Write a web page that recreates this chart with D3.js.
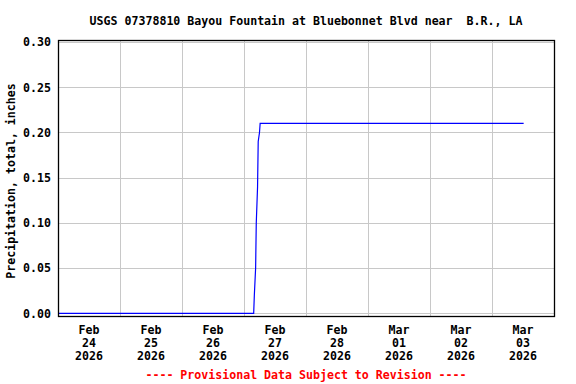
<!DOCTYPE html>
<html lang="en">

<head>
  <meta charset="utf-8">
  <title>USGS 07378810 precipitation</title>
  <script type="text/javascript" src="https://cdn.jsdelivr.net/npm/d3@7"></script>
  <style type="text/css">
    body { margin: 0; background: #fff; }
    text { font-family: "DejaVu Sans Mono", monospace; font-weight: bold; font-size: 11.6px; }
  </style>
</head>

<body>
  <script type="text/javascript">
    // Data
    const titleText = "USGS 07378810 Bayou Fountain at Bluebonnet Blvd near  B.R., LA";
    const yLabel = "Precipitation, total, inches";
    const footer = "---- Provisional Data Subject to Revision ----";

    const times = [
      "2026-02-24T00:00", "2026-02-27T03:45", "2026-02-27T04:00", "2026-02-27T04:30",
      "2026-02-27T04:45", "2026-02-27T05:15", "2026-02-27T05:30", "2026-02-27T06:00",
      "2026-02-27T06:15", "2026-03-03T12:15"
    ];
    const values = [0.00, 0.00, 0.02, 0.05, 0.10, 0.14, 0.19, 0.20, 0.21, 0.21];

    const dayTicks = ["2026-02-24", "2026-02-25", "2026-02-26", "2026-02-27",
                      "2026-02-28", "2026-03-01", "2026-03-02", "2026-03-03"];
    const monthNames = ["Jan", "Feb", "Mar", "Apr", "May", "Jun", "Jul", "Aug", "Sep", "Oct", "Nov", "Dec"];
    const yTicks = [0, 0.05, 0.10, 0.15, 0.20, 0.25, 0.30];

    const parse = d3.timeParse("%Y-%m-%dT%H:%M");
    const parseDay = d3.timeParse("%Y-%m-%d");
    const data = times.map((t, i) => ({ t: parse(t), v: values[i] }));

    // Size
    const w = 576, h = 384;
    const plotL = 58, plotR = 554, plotT = 40, plotB = 316;

    const xScale = d3.scaleTime()
      .domain([parseDay("2026-02-24"), parseDay("2026-03-04")])
      .range([plotL, plotR]);

    const yScale = d3.scaleLinear()
      .domain([0, 0.30])
      .range([313.3, 42.1]);

    const svg = d3.select("body")
      .append("svg")
      .attr("width", w)
      .attr("height", h);

    // Grid
    const midnights = d3.timeDay.range(parseDay("2026-02-25"), parseDay("2026-03-04"));
    svg.selectAll("line.vgrid")
      .data(midnights)
      .enter()
      .append("line")
      .attr("x1", d => Math.round(xScale(d)) + 0.5)
      .attr("x2", d => Math.round(xScale(d)) + 0.5)
      .attr("y1", plotT)
      .attr("y2", plotB)
      .attr("stroke", "#c8c8c8");

    svg.selectAll("line.hgrid")
      .data(yTicks)
      .enter()
      .append("line")
      .attr("x1", plotL)
      .attr("x2", plotR)
      .attr("y1", d => Math.round(yScale(d)) + 0.5)
      .attr("y2", d => Math.round(yScale(d)) + 0.5)
      .attr("stroke", "#c8c8c8");

    // Line
    const line = d3.line()
      .x(d => xScale(d.t))
      .y(d => yScale(d.v));

    svg.append("path")
      .datum(data)
      .attr("d", line)
      .attr("fill", "none")
      .attr("stroke", "#0000ff")
      .attr("stroke-width", 1.2);

    // Frame
    svg.append("rect")
      .attr("x", plotL + 0.5)
      .attr("y", plotT + 0.5)
      .attr("width", plotR - plotL)
      .attr("height", plotB - plotT)
      .attr("fill", "none")
      .attr("stroke", "#000")
      .attr("stroke-width", 1.3);

    // Y axis
    const yAxis = d3.axisLeft(yScale)
      .tickValues(yTicks)
      .tickSize(0)
      .tickPadding(7)
      .tickFormat(d3.format(".2f"));

    const gy = svg.append("g")
      .attr("transform", "translate(" + plotL + ",0)")
      .call(yAxis);
    gy.select(".domain").remove();
    gy.selectAll("text")
      .attr("fill", "#000")
      .style("font-family", "DejaVu Sans Mono")
      .style("font-size", "11.6px")
      .style("font-weight", "bold");

    // X labels at noon
    const xl = svg.selectAll("text.xl")
      .data(dayTicks.map(parseDay))
      .enter()
      .append("text")
      .attr("class", "xl")
      .attr("text-anchor", "middle");
    const dayFmt = d3.timeFormat("%d");
    [0, 1, 2].forEach(k => {
      xl.append("tspan")
        .attr("x", d => xScale(d3.timeHour.offset(d, 12)))
        .attr("y", 334 + k * 13)
        .text(d => k === 0 ? monthNames[d.getMonth()] : k === 1 ? dayFmt(d) : d.getFullYear());
    });

    // Title, y label, footer
    svg.append("text")
      .attr("x", (plotL + plotR) / 2)
      .attr("y", 25)
      .attr("text-anchor", "middle")
      .style("white-space", "pre")
      .text(titleText);

    svg.append("text")
      .attr("transform", "translate(15,181) rotate(-90)")
      .attr("text-anchor", "middle")
      .text(yLabel);

    svg.append("text")
      .attr("x", (plotL + plotR) / 2)
      .attr("y", 379)
      .attr("text-anchor", "middle")
      .attr("fill", "#ff0000")
      .text(footer);
  </script>
</body>

</html>
